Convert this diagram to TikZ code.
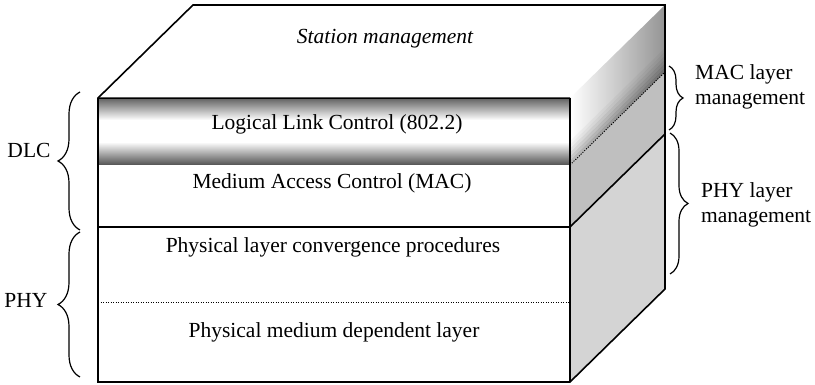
\documentclass[tikz,border=0pt]{standalone}
\usepackage{fontspec}
\setmainfont{Liberation Serif}
\usetikzlibrary{decorations.pathreplacing}

\begin{document}
\begin{tikzpicture}[x=1pt,y=1pt,
  edge/.style={line width=1.6pt, line join=miter},
  sep/.style={line width=0.9pt, dash pattern=on 1.2pt off 1.3pt},
  lbl/.style={font=\fontsize{21.5}{25}\selectfont, inner sep=0pt},
  brc/.style={decorate, decoration={brace, amplitude=#1}, line width=1.2pt},
]
\useasboundingbox (0,0) rectangle (815,385);

% box corners
\coordinate (FTL) at (98,287);
\coordinate (FTR) at (570,287);
\coordinate (FBL) at (98,3);
\coordinate (FBR) at (570,3);
\coordinate (BTL) at (193,380);
\coordinate (BTR) at (665,380);
\coordinate (BBR) at (665,96);
% layer boundaries
\coordinate (LLCf) at (570,220);
\coordinate (LLCb) at (665,313);
\coordinate (MPl) at (98,158);
\coordinate (MPf) at (570,158);
\coordinate (MPb) at (665,251);
\coordinate (PMl) at (98,83);
\coordinate (PMr) at (570,83);

% side face: lower (PHY) part
\fill[black!17] (MPf) -- (MPb) -- (BBR) -- (FBR) -- cycle;
% side face: MAC part
\fill[black!25] (LLCf) -- (LLCb) -- (MPb) -- (MPf) -- cycle;
% side face: LLC part, fading towards the front
\shade[left color=white, right color=black!42] (FTR) -- (BTR) -- (LLCb) -- (LLCf) -- cycle;
\foreach \i/\o in {0/0.26,1/0.20,2/0.15,3/0.10,4/0.06,5/0.03}
  \fill[black, opacity=\o] (570,220+4*\i) -- (665,313+4*\i) -- (665,317+4*\i) -- (570,224+4*\i) -- cycle;

% LLC band on the front face
\shade[top color=black!62, bottom color=white] (98,287) rectangle (570,265);
\shade[top color=white, bottom color=black!68] (98,243) rectangle (570,220);

% outlines
\draw[line width=0.8pt] (FTL) -- (FTR);
\draw[edge] (FBL) -- (FTL) -- (BTL) -- (BTR) -- (BBR) -- (FBR) -- cycle;
\draw[edge] (FTR) -- (FBR);
\draw[edge] (MPl) -- (MPf) -- (MPb);
\draw[sep] (PMl) -- (PMr);
\draw[sep] (LLCf) -- (LLCb);

% layer texts
\node[lbl, anchor=base] (stm) at (385,341) {\itshape Station management};
\node[lbl, anchor=base] (llc) at (337,255) {Logical Link Control (802.2)};
\node[lbl, anchor=base] (mac) at (332,196) {Medium Access Control (MAC)};
\node[lbl, anchor=base] (plcp) at (333,132) {Physical layer convergence procedures};
\node[lbl, anchor=base] (pmd) at (334,47) {Physical medium dependent layer};

% side labels (base anchor sits on the last line)
\node[lbl, anchor=base] (dlc) at (29,227) {DLC};
\node[lbl, anchor=base] (phy) at (26,77) {PHY};
\node[lbl, anchor=base west, align=left] (macm) at (695,280) {MAC layer\\management};
\node[lbl, anchor=base west, align=left] (phym) at (701,162) {PHY layer\\management};

% braces
\coordinate (dlcA) at (80,155);
\coordinate (dlcB) at (80,293);
\coordinate (phyA) at (80,8);
\coordinate (phyB) at (80,153);
\coordinate (macA) at (669,319);
\coordinate (macB) at (669,255);
\coordinate (phmA) at (670,252);
\coordinate (phmB) at (670,111);
\draw[brc=22] (dlcA) -- (dlcB);
\draw[brc=22] (phyA) -- (phyB);
\draw[brc=14] (macA) -- (macB);
\draw[brc=18] (phmA) -- (phmB);
\end{tikzpicture}
\end{document}
